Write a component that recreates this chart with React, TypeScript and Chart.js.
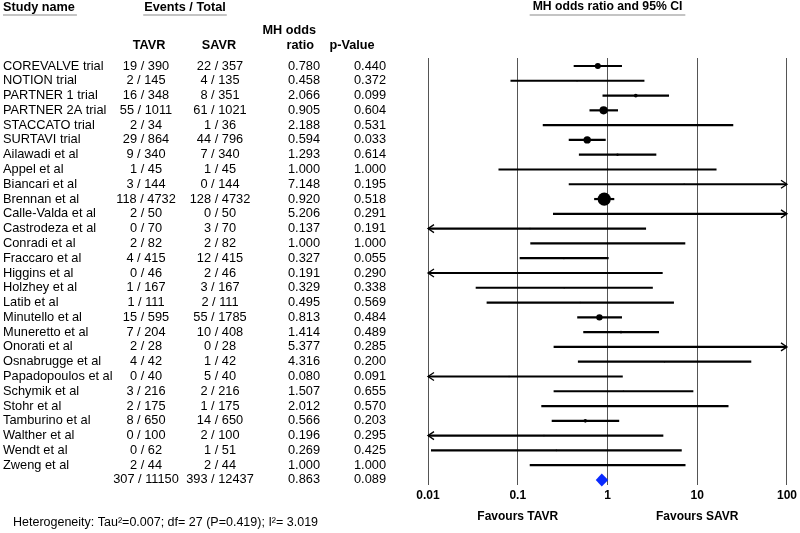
import React, { useEffect, useRef } from 'react';
import { Chart, registerables } from 'chart.js';

Chart.register(...registerables);

const studyNames = ['COREVALVE trial', 'NOTION trial', 'PARTNER 1 trial', 'PARTNER 2A trial', 'STACCATO trial', 'SURTAVI trial', 'Ailawadi et al', 'Appel et al', 'Biancari et al', 'Brennan et al', 'Calle-Valda et al', 'Castrodeza et al', 'Conradi et al', 'Fraccaro et al', 'Higgins et al', 'Holzhey et al', 'Latib et al', 'Minutello et al', 'Muneretto et al', 'Onorati et al', 'Osnabrugge et al', 'Papadopoulos et al', 'Schymik et al', 'Stohr et al', 'Tamburino et al', 'Walther et al', 'Wendt et al', 'Zweng et al'];
const tavrEvents = ['19 / 390', '2 / 145', '16 / 348', '55 / 1011', '2 / 34', '29 / 864', '9 / 340', '1 / 45', '3 / 144', '118 / 4732', '2 / 50', '0 / 70', '2 / 82', '4 / 415', '0 / 46', '1 / 167', '1 / 111', '15 / 595', '7 / 204', '2 / 28', '4 / 42', '0 / 40', '3 / 216', '2 / 175', '8 / 650', '0 / 100', '0 / 62', '2 / 44'];
const savrEvents = ['22 / 357', '4 / 135', '8 / 351', '61 / 1021', '1 / 36', '44 / 796', '7 / 340', '1 / 45', '0 / 144', '128 / 4732', '0 / 50', '3 / 70', '2 / 82', '12 / 415', '2 / 46', '3 / 167', '2 / 111', '55 / 1785', '10 / 408', '0 / 28', '1 / 42', '5 / 40', '2 / 216', '1 / 175', '14 / 650', '2 / 100', '1 / 51', '2 / 44'];
const oddsRatio = [0.780, 0.458, 2.066, 0.905, 2.188, 0.594, 1.293, 1.000, 7.148, 0.920, 5.206, 0.137, 1.000, 0.327, 0.191, 0.329, 0.495, 0.813, 1.414, 5.377, 4.316, 0.080, 1.507, 2.012, 0.566, 0.196, 0.269, 1.000];
const pValues = [0.440, 0.372, 0.099, 0.604, 0.531, 0.033, 0.614, 1.000, 0.195, 0.518, 0.291, 0.191, 1.000, 0.055, 0.290, 0.338, 0.569, 0.484, 0.489, 0.285, 0.200, 0.091, 0.655, 0.570, 0.203, 0.295, 0.425, 1.000];
const ciLower = [0.42, 0.083, 0.88, 0.63, 0.19, 0.37, 0.48, 0.061, 0.37, 0.71, 0.247, 0.007, 0.138, 0.105, 0.0088, 0.034, 0.045, 0.46, 0.537, 0.251, 0.468, 0.0043, 0.251, 0.183, 0.239, 0.0092, 0.0108, 0.136];
const ciUpper = [1.45, 2.58, 4.85, 1.31, 25.2, 0.955, 3.5, 16.4, 138, 1.19, 110, 2.69, 7.36, 1.03, 4.12, 3.2, 5.5, 1.45, 3.75, 115, 40, 1.48, 9.05, 22.3, 1.35, 4.19, 6.72, 7.4];
const studyWeights = [3.0, 0.8, 1.9, 4.1, 0.8, 3.7, 1.2, 0.8, 0.8, 6.6, 0.8, 0.8, 0.8, 1.0, 0.8, 0.8, 0.8, 3.2, 1.3, 0.8, 0.8, 0.8, 0.8, 0.8, 1.8, 0.8, 0.8, 0.8];

const summaryTavr = '307 / 11150';
const summarySavr = '393 / 12437';
const summaryOR = 0.863;
const summaryP = 0.089;
const summaryLower = 0.74;
const summaryUpper = 1.02;

const xTickValues = [0.01, 0.1, 1, 10, 100];
const xTickLabels = ['0.01', '0.1', '1', '10', '100'];
const heterogeneityText = 'Heterogeneity: Tau\u00b2=0.007; df= 27 (P=0.419); I\u00b2= 3.019';

const FONT = "'Liberation Sans', Arial, sans-serif";

const forestPlugin = {
  id: 'forest',
  beforeDatasetsDraw(chart: any) {
    const { ctx, chartArea, scales } = chart;
    const xs = scales.x;
    const ys = scales.y;
    ctx.save();
    ctx.strokeStyle = '#000';
    for (let i = 0; i < studyNames.length; i++) {
      const y = ys.getPixelForValue(i);
      const lo = ciLower[i];
      const hi = ciUpper[i];
      const x1 = lo < 0.01 ? chartArea.left : xs.getPixelForValue(lo);
      const x2 = hi > 100 ? chartArea.right : xs.getPixelForValue(hi);
      ctx.lineWidth = 2.2;
      ctx.beginPath();
      ctx.moveTo(x1, y);
      ctx.lineTo(x2, y);
      ctx.stroke();
      ctx.lineWidth = 1.3;
      if (lo < 0.01) {
        ctx.beginPath();
        ctx.moveTo(x1 + 6, y - 4);
        ctx.lineTo(x1, y);
        ctx.lineTo(x1 + 6, y + 4);
        ctx.stroke();
      }
      if (hi > 100) {
        ctx.beginPath();
        ctx.moveTo(x2 - 6, y - 4);
        ctx.lineTo(x2, y);
        ctx.lineTo(x2 - 6, y + 4);
        ctx.stroke();
      }
    }
    ctx.restore();
  },
  afterDatasetsDraw(chart: any) {
    const { ctx, scales } = chart;
    const xs = scales.x;
    const ys = scales.y;
    const y = ys.getPixelForValue(studyNames.length);
    const xl = xs.getPixelForValue(summaryLower);
    const xc = xs.getPixelForValue(summaryOR);
    const xr = xs.getPixelForValue(summaryUpper);
    ctx.save();
    ctx.fillStyle = '#0a2aff';
    ctx.beginPath();
    ctx.moveTo(xl, y);
    ctx.lineTo(xc, y - 6.5);
    ctx.lineTo(xr, y);
    ctx.lineTo(xc, y + 6.5);
    ctx.closePath();
    ctx.fill();
    ctx.restore();
  },
  afterDraw(chart: any) {
    const { ctx, chartArea, scales } = chart;
    const xs = scales.x;
    const ys = scales.y;
    ctx.save();
    ctx.fillStyle = '#000';
    ctx.textBaseline = 'middle';

    const bold = `bold 12.7px ${FONT}`;
    const reg = `12.8px ${FONT}`;
    ctx.font = bold;
    ctx.textAlign = 'left';
    ctx.fillText('Study name', 3, 7);
    ctx.textAlign = 'center';
    ctx.fillText('Events / Total', 185, 7);
    const cx = (chartArea.left + chartArea.right) / 2;
    ctx.font = `bold 12.2px ${FONT}`;
    ctx.fillText('MH odds ratio and 95% CI', cx, 7);
    const titleW = ctx.measureText('MH odds ratio and 95% CI').width;
    ctx.font = bold;
    const w1 = ctx.measureText('Study name').width;
    const w2 = ctx.measureText('Events / Total').width;
    ctx.strokeStyle = '#c4c4c4';
    ctx.lineWidth = 2;
    ctx.beginPath();
    ctx.moveTo(3, 15); ctx.lineTo(3 + w1 + 2, 15);
    ctx.moveTo(185 - w2 / 2 - 1, 15); ctx.lineTo(185 + w2 / 2 + 1, 15);
    ctx.moveTo(cx - titleW / 2 - 3, 15); ctx.lineTo(cx + titleW / 2 + 3, 15);
    ctx.stroke();

    ctx.textAlign = 'right';
    ctx.fillText('MH odds', 316, 30);
    ctx.fillText('ratio', 314, 45);
    ctx.textAlign = 'center';
    ctx.fillText('TAVR', 149, 45);
    ctx.fillText('SAVR', 219, 45);
    ctx.fillText('p-Value', 352, 45);

    ctx.font = reg;
    for (let i = 0; i <= studyNames.length; i++) {
      const y = ys.getPixelForValue(i);
      const isSum = i === studyNames.length;
      ctx.textAlign = 'left';
      if (!isSum) ctx.fillText(studyNames[i], 3, y);
      ctx.textAlign = 'center';
      ctx.fillText(isSum ? summaryTavr : tavrEvents[i], 146, y);
      ctx.fillText(isSum ? summarySavr : savrEvents[i], 220, y);
      ctx.textAlign = 'right';
      ctx.fillText((isSum ? summaryOR : oddsRatio[i]).toFixed(3), 320, y);
      ctx.fillText((isSum ? summaryP : pValues[i]).toFixed(3), 386, y);
    }

    ctx.font = `bold 12px ${FONT}`;
    ctx.textAlign = 'center';
    ctx.fillText('Favours TAVR', xs.getPixelForValue(0.1), 517);
    ctx.fillText('Favours SAVR', xs.getPixelForValue(10), 517);

    ctx.font = `12.5px ${FONT}`;
    ctx.textAlign = 'left';
    ctx.fillText(heterogeneityText, 13, 523);
    ctx.restore();
  },
};

export default function App() {
  const ref = useRef<HTMLCanvasElement | null>(null);
  useEffect(() => {
    if (!ref.current) return;
    const chart = new Chart(ref.current, {
      type: 'scatter',
      data: {
        datasets: [
          {
            data: oddsRatio.map((v, i) => ({ x: v, y: i })),
            pointRadius: studyWeights,
            pointHoverRadius: studyWeights,
            backgroundColor: '#000',
            borderColor: '#000',
            borderWidth: 0,
          },
        ],
      },
      options: {
        responsive: false,
        animation: false,
        events: [],
        layout: { padding: { left: 428, right: 12, top: 58, bottom: 27.6 } },
        plugins: { legend: { display: false }, tooltip: { enabled: false }, title: { display: false } },
        scales: {
          x: {
            type: 'logarithmic',
            min: 0.01,
            max: 100,
            afterBuildTicks: (scale: any) => {
              scale.ticks = xTickValues.map((v) => ({ value: v }));
            },
            ticks: {
              autoSkip: false,
              maxRotation: 0,
              padding: 3,
              color: '#000',
              font: { family: FONT, size: 12, weight: 'bold' },
              callback: (value: any) => {
                const idx = xTickValues.findIndex((t) => Math.abs(t - value) < t * 1e-6);
                return idx >= 0 ? xTickLabels[idx] : '';
              },
            },
            grid: { color: '#555', lineWidth: 1, drawTicks: false },
            border: { display: false },
          },
          y: {
            type: 'linear',
            min: -0.54,
            max: 28.34,
            reverse: true,
            display: false,
          },
        },
      },
      plugins: [forestPlugin],
    } as any);
    return () => chart.destroy();
  }, []);
  return (
    <div style={{ position: 'absolute', left: 0, top: 0, width: 800, height: 533, background: '#fff' }}>
      <canvas ref={ref} width={800} height={533} style={{ width: 800, height: 533, display: 'block' }} />
    </div>
  );
}
